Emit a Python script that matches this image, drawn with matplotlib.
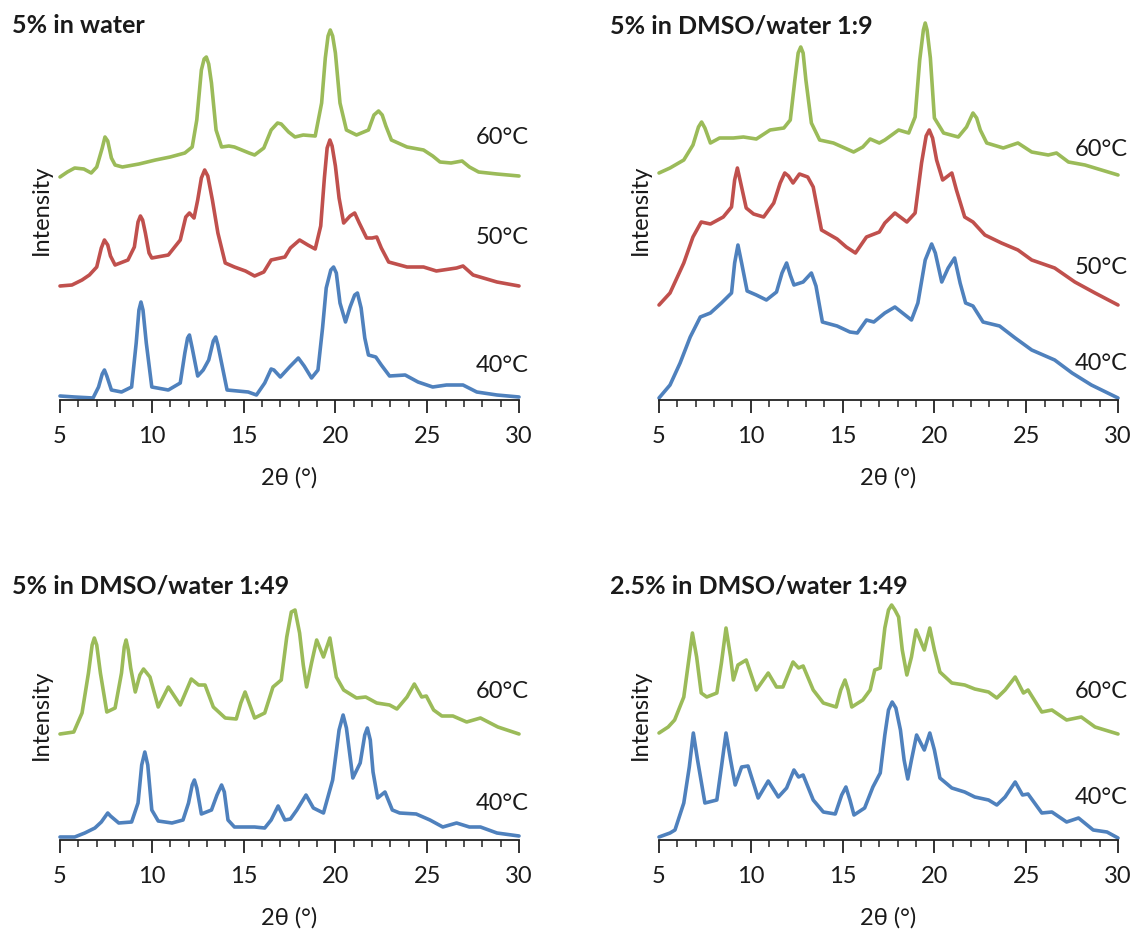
import matplotlib
matplotlib.use("Agg")
import matplotlib.pyplot as plt
from matplotlib.ticker import MultipleLocator

plt.rcParams['font.family'] = ['Lato', 'DejaVu Sans']

GREEN = '#9bbb59'
RED = '#c0504d'
BLUE = '#4f81bd'
TXT = '#1a1a1a'

# ---- 5% in water ----
water_60_x = [5.0, 5.4, 5.8, 6.3, 6.7, 7.0, 7.3, 7.45, 7.6, 7.8, 8.0, 8.4, 9.3, 10.2, 11.0, 11.8, 12.2, 12.45, 12.7,
              12.85, 12.97, 13.1, 13.25, 13.5, 13.8, 14.2, 14.5, 14.9, 15.3, 15.6, 16.1, 16.5, 16.85, 17.05, 17.45,
              17.8, 18.25, 18.9, 19.25, 19.45, 19.6, 19.72, 19.85, 20.0, 20.25, 20.6, 21.15, 21.8, 22.1, 22.35,
              22.55, 22.75, 23.05, 23.9, 24.8, 25.3, 25.7, 26.3, 26.9, 27.3, 27.8, 28.8, 30.0]
water_60_y = [221, 226, 230, 229, 225, 231, 250, 261, 257, 240, 233, 231, 234, 238, 241, 245, 251, 278, 328,
              339, 341, 334, 315, 268, 251, 252, 251, 248, 245, 243, 250, 268, 275, 274, 266,
              261, 263, 262, 295, 340, 362, 368, 362, 345, 295, 268, 263, 268, 283, 287,
              283, 272, 258, 251, 248, 242, 236, 235, 237, 231, 226, 224, 222]
water_50_x = [5.0, 5.65, 6.2, 6.6, 7.0, 7.25, 7.42, 7.6, 7.75, 8.0, 8.7, 9.05, 9.25, 9.38, 9.5, 9.65, 9.85, 10.0, 10.9,
              11.55, 11.85, 12.05, 12.3, 12.5, 12.7, 12.88, 13.05, 13.3, 13.6, 14.0, 14.5, 15.1, 15.6, 16.1, 16.5,
              17.25, 17.55, 18.05, 18.5, 18.9, 19.2, 19.4, 19.55, 19.7, 19.82, 20.0, 20.2, 20.45, 20.8, 21.05, 21.3,
              21.7, 22.0, 22.25, 22.5, 22.9, 23.9, 24.8, 25.5, 26.6, 26.95, 27.5, 28.8, 30.0]
water_50_y = [112, 113, 118, 123, 131, 150, 158, 153, 142, 133, 138, 151, 176, 182, 178, 165, 145, 140, 143,
              158, 181, 185, 180, 198, 220, 228, 222, 198, 165, 135, 131, 127, 122, 126, 138,
              141, 150, 158, 153, 149, 172, 220, 250, 258, 252, 232, 200, 175, 182, 185, 175,
              160, 160, 161, 150, 136, 131, 131, 127, 130, 132, 123, 116, 112]
water_40_x = [5.0, 5.8, 6.8, 7.1, 7.3, 7.42, 7.55, 7.8, 8.35, 8.9, 9.15, 9.3, 9.41, 9.52, 9.7, 10.0, 10.9, 11.55,
              11.8, 11.95, 12.05, 12.2, 12.5, 12.8, 13.1, 13.35, 13.48, 13.6, 13.8, 14.1, 15.25, 15.7, 16.15, 16.5,
              16.65, 17.0, 17.5, 17.98, 18.3, 18.7, 19.05, 19.3, 19.5, 19.75, 19.9, 20.05, 20.25, 20.55, 20.8,
              21.05, 21.2, 21.4, 21.6, 21.8, 22.2, 22.5, 22.95, 23.8, 24.5, 25.3, 26.05, 26.95, 27.7, 28.8, 30.0]
water_40_y = [2, 1, 0, 11, 24, 28, 22, 8, 6, 11, 55, 88, 96, 88, 55, 11, 8, 15,
              45, 60, 63, 50, 22, 28, 38, 57, 61, 53, 35, 8, 6, 3, 15, 29,
              28, 21, 31, 40, 32, 20, 28, 70, 110, 128, 131, 125, 95, 76, 91,
              103, 105, 90, 60, 43, 41, 33, 22, 23, 16, 11, 13, 13, 6, 3, 1]

# ---- 5% in DMSO/water 1:9 ----
d9_60_x = [5.0, 5.6, 6.35, 6.85, 7.15, 7.32, 7.5, 7.8, 8.3, 9.05, 9.6, 10.3, 11.05, 11.8, 12.15, 12.4, 12.58, 12.72,
           12.85, 13.0, 13.3, 13.75, 14.5, 15.6, 16.1, 16.5, 17.0, 17.3, 18.05, 18.6, 18.95, 19.2, 19.4, 19.5,
           19.6, 19.78, 20.0, 20.5, 21.3, 21.75, 22.1, 22.3, 22.5, 22.85, 23.75, 24.55, 25.3, 26.2, 26.65, 27.3,
           28.2, 30.0]
d9_60_y = [225, 230, 238, 253, 271, 276, 270, 255, 260, 260, 261, 259, 268, 270, 278, 318, 345, 351,
           345, 318, 275, 258, 255, 246, 251, 259, 255, 258, 268, 265, 281, 338, 368, 375,
           368, 340, 280, 265, 261, 271, 285, 280, 268, 255, 250, 255, 246, 243, 245, 236,
           233, 223]
d9_50_x = [5.0, 5.6, 6.35, 6.85, 7.3, 7.8, 8.5, 8.95, 9.12, 9.27, 9.45, 9.75, 10.15, 10.7, 11.25, 11.6, 11.85, 12.05,
           12.3, 12.65, 13.1, 13.4, 13.85, 14.7, 15.2, 15.7, 16.3, 17.0, 17.3, 17.85, 18.5, 18.95, 19.3, 19.55,
           19.72, 19.9, 20.12, 20.45, 20.95, 21.2, 21.65, 22.1, 22.75, 23.65, 24.55, 25.3, 26.55, 27.65, 28.75,
           30.0]
d9_50_y = [93, 105, 135, 161, 176, 174, 181, 191, 218, 230, 215, 190, 184, 181, 195, 215, 225, 222,
           215, 224, 221, 211, 168, 159, 151, 145, 161, 166, 175, 185, 176, 185, 235, 262,
           268, 260, 238, 218, 225, 208, 181, 176, 163, 155, 148, 138, 130, 116, 105,
           93]
d9_40_x = [5.0, 5.6, 6.15, 6.7, 7.25, 7.8, 8.4, 8.95, 9.12, 9.3, 9.5, 9.8, 10.3, 10.85, 11.4, 11.7, 11.95, 12.15,
           12.35, 12.85, 13.3, 13.55, 13.9, 14.7, 15.4, 15.8, 16.3, 16.7, 17.3, 17.85, 18.75, 19.1, 19.5, 19.85,
           20.05, 20.4, 20.75, 21.1, 21.4, 21.7, 22.1, 22.65, 23.55, 24.4, 25.3, 26.55, 27.5, 28.55, 30.0]
d9_40_y = [0, 13, 35, 61, 81, 85, 95, 105, 135, 153, 135, 107, 103, 98, 106, 125, 135, 123,
           113, 116, 125, 112, 76, 72, 66, 65, 78, 76, 85, 91, 78, 95, 138, 154,
           145, 116, 130, 140, 115, 95, 92, 76, 72, 60, 48, 38, 25, 13, 0]

# ---- 5% in DMSO/water 1:49 ----
d49_60_x = [5.0, 5.75, 6.2, 6.55, 6.75, 6.87, 7.0, 7.2, 7.55, 8.0, 8.35, 8.5, 8.6, 8.72, 8.85, 9.1, 9.35, 9.55,
            9.9, 10.35, 10.9, 11.55, 12.15, 12.55, 12.9, 13.35, 14.0, 14.6, 14.85, 15.08, 15.3, 15.6, 16.15, 16.6,
            17.05, 17.35, 17.6, 17.8, 18.05, 18.25, 18.43, 18.7, 18.98, 19.35, 19.7, 20.05, 20.45, 21.15, 21.65,
            22.25, 22.95, 23.35, 23.9, 24.3, 24.7, 24.95, 25.35, 25.8, 26.4, 27.15, 27.9, 28.85, 30.0]
d49_60_y = [106, 108, 127, 167, 195, 202, 195, 167, 128, 132, 167, 193, 200, 190, 172, 148, 165, 171,
            163, 133, 153, 135, 161, 155, 155, 133, 122, 121, 137, 148, 137, 122, 127, 153,
            160, 203, 228, 230, 207, 175, 153, 177, 200, 183, 202, 163, 150, 142, 143,
            137, 135, 131, 143, 156, 143, 144, 130, 124, 124, 118, 122, 113, 106]
d49_40_x = [5.0, 5.8, 6.35, 6.9, 7.25, 7.6, 7.75, 8.2, 8.9, 9.25, 9.45, 9.62, 9.78, 10.0, 10.35, 11.1, 11.7, 12.0,
            12.2, 12.32, 12.45, 12.7, 13.25, 13.55, 13.8, 13.95, 14.15, 14.5, 15.6, 16.15, 16.5, 16.88, 17.25,
            17.55, 17.9, 18.4, 18.8, 19.35, 19.85, 20.2, 20.42, 20.6, 20.95, 21.35, 21.6, 21.74, 21.9, 22.05,
            22.3, 22.7, 23.1, 23.5, 24.4, 25.15, 25.85, 26.6, 27.3, 27.9, 28.8, 30.0]
d49_40_y = [3, 3, 7, 12, 18, 27, 24, 17, 18, 37, 75, 88, 75, 30, 19, 17, 20, 37,
            55, 60, 52, 26, 30, 45, 55, 48, 20, 13, 13, 12, 20, 34, 20,
            21, 30, 45, 32, 27, 60, 110, 125, 112, 62, 77, 105, 112, 100, 68,
            42, 48, 30, 27, 26, 20, 13, 17, 13, 13, 7, 4]

# ---- 2.5% in DMSO/water 1:49 ----
h49_60_x = [5.0, 5.5, 5.85, 6.35, 6.6, 6.82, 7.05, 7.3, 7.6, 8.15, 8.4, 8.65, 8.9, 9.05, 9.3, 9.75, 10.3, 10.95,
            11.4, 11.75, 12.3, 12.6, 12.85, 13.4, 13.95, 14.65, 14.9, 15.13, 15.3, 15.5, 16.1, 16.5, 16.75, 17.05,
            17.3, 17.5, 17.67, 17.85, 18.05, 18.25, 18.5, 18.75, 19.0, 19.45, 19.75, 20.0, 20.3, 20.95, 21.65,
            22.2, 22.95, 23.4, 23.85, 24.4, 24.85, 25.1, 25.85, 26.4, 27.2, 28.0, 28.75, 30.0]
h49_60_y = [107, 113, 120, 143, 177, 207, 183, 147, 143, 147, 177, 212, 183, 160, 175, 180, 150, 167,
            153, 153, 178, 172, 174, 150, 137, 133, 150, 160, 150, 133, 140, 150, 170, 172,
            212, 230, 235, 230, 223, 190, 165, 183, 210, 190, 212, 190, 168, 157, 155,
            151, 148, 142, 150, 163, 147, 150, 128, 130, 120, 123, 113, 106]
h49_40_x = [5.0, 5.6, 5.87, 6.35, 6.65, 6.87, 7.1, 7.5, 8.15, 8.4, 8.65, 8.9, 9.15, 9.5, 9.85, 10.4, 10.95, 11.5,
            11.95, 12.35, 12.6, 12.85, 13.4, 13.95, 14.6, 14.95, 15.18, 15.4, 15.62, 16.2, 16.65, 17.05, 17.3,
            17.5, 17.7, 17.9, 18.15, 18.35, 18.55, 18.75, 19.03, 19.45, 19.75, 20.0, 20.3, 20.95, 21.65, 22.2,
            22.95, 23.4, 23.85, 24.4, 24.8, 25.1, 25.85, 26.4, 27.2, 27.85, 28.65, 29.4, 30.0]
h49_40_y = [3, 7, 10, 37, 73, 107, 80, 37, 40, 73, 107, 80, 55, 73, 74, 42, 59, 43,
            52, 70, 63, 65, 40, 28, 26, 45, 53, 40, 25, 32, 53, 67, 105,
            130, 138, 132, 110, 80, 61, 80, 105, 90, 107, 90, 62, 52, 48, 43,
            40, 35, 43, 58, 45, 46, 27, 28, 18, 22, 10, 8, 2]

W, H = 1136, 939
fig = plt.figure(figsize=(W / 100, H / 100), dpi=100)


def make_axes(left_px, bottom_px, height_px, ylim):
    ax = fig.add_axes([left_px / W, 1 - bottom_px / H, 459 / W, height_px / H])
    ax.set_xlim(5, 30)
    ax.set_ylim(*ylim)
    for s in ['top', 'right', 'left']:
        ax.spines[s].set_visible(False)
    ax.spines['bottom'].set_linewidth(1.3)
    ax.spines['bottom'].set_color('#222222')
    ax.set_xticks(range(5, 31, 5))
    ax.xaxis.set_minor_locator(MultipleLocator(1))
    ax.tick_params(axis='x', which='major', length=9, width=1.3, color='#222222',
                   labelsize=17, labelcolor=TXT, pad=10)
    ax.tick_params(axis='x', which='minor', length=5, width=1.1, color='#222222')
    ax.set_yticks([])
    ax.set_xlabel('2θ (°)', fontsize=17, color=TXT, labelpad=14)
    ax.set_ylabel('Intensity', fontsize=17, color=TXT)
    ax.yaxis.set_label_coords(-0.017, 0.5)
    return ax


panels = [
    (60, 400, 380, (-2, 378), '5% in water', 12, 33,
     [(water_60_x, water_60_y, GREEN, '60°C', 261),
      (water_50_x, water_50_y, RED, '50°C', 160),
      (water_40_x, water_40_y, BLUE, '40°C', 33)]),
    (659, 400, 380, (-2, 378), '5% in DMSO/water 1:9', 610, 33,
     [(d9_60_x, d9_60_y, GREEN, '60°C', 248),
      (d9_50_x, d9_50_y, RED, '50°C', 130),
      (d9_40_x, d9_40_y, BLUE, '40°C', 35)]),
    (60, 840, 250, (0, 250), '5% in DMSO/water 1:49', 12, 593,
     [(d49_60_x, d49_60_y, GREEN, '60°C', 148),
      (d49_40_x, d49_40_y, BLUE, '40°C', 36)]),
    (659, 840, 250, (0, 250), '2.5% in DMSO/water 1:49', 610, 593,
     [(h49_60_x, h49_60_y, GREEN, '60°C', 148),
      (h49_40_x, h49_40_y, BLUE, '40°C', 42)]),
]

for left, bottom, height, ylim, title, tx, ty, curves in panels:
    ax = make_axes(left, bottom, height, ylim)
    for xs, ys, col, lab, ly in curves:
        ax.plot(xs, ys, color=col, lw=2.6, solid_joinstyle='round', solid_capstyle='round', clip_on=False)
        ax.text(30.55, ly, lab, fontsize=17, color=TXT, ha='right', va='center')
    fig.text(tx / W, 1 - ty / H, title, fontsize=18, fontweight='bold', color=TXT,
             ha='left', va='baseline')

fig.savefig('out.png', dpi=100)
